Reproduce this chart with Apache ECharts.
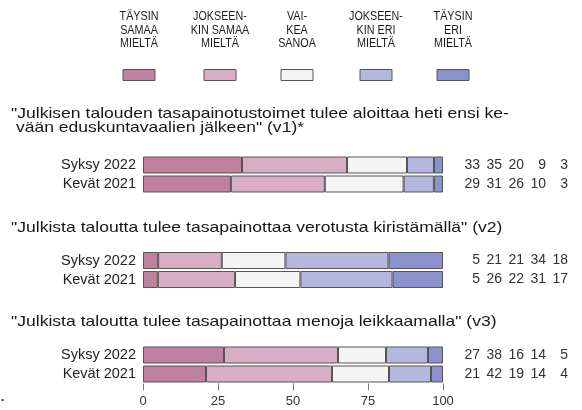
<!DOCTYPE html>
<html><head><meta charset="utf-8">
<script src="https://cdn.jsdelivr.net/npm/echarts@6/dist/echarts.min.js"></script>
<style>html,body{margin:0;padding:0;background:#fff}#c{width:582px;height:410px}</style>
</head><body><div id="c"></div>
<script>
const categories = ['Syksy 2022', 'Kevät 2021'];
const responseLabels = ['TÄYSIN\nSAMAA\nMIELTÄ', 'JOKSEEN-\nKIN SAMAA\nMIELTÄ', 'VAI-\nKEA\nSANOA', 'JOKSEEN-\nKIN ERI\nMIELTÄ', 'TÄYSIN\nERI\nMIELTÄ'];
const questions = [
  '"Julkisen talouden tasapainotustoimet tulee aloittaa heti ensi ke-\n vään eduskuntavaalien jälkeen" (v1)*',
  '"Julkista taloutta tulee tasapainottaa verotusta kiristämällä" (v2)',
  '"Julkista taloutta tulee tasapainottaa menoja leikkaamalla" (v3)'
];
const v1 = [[33, 35, 20, 9, 3], [29, 31, 26, 10, 3]];
const v2 = [[5, 21, 21, 34, 18], [5, 26, 22, 31, 17]];
const v3 = [[27, 38, 16, 14, 5], [21, 42, 19, 14, 4]];
const xTicks = [0, 25, 50, 75, 100];

const colors = ['#c0809f', '#d8aec4', '#f4f4f4', '#b4b7de', '#8a91cc'];
const FONT = '"Liberation Sans", Arial, sans-serif';
const data = [v1, v2, v3];

const gridLeft = 143, gridRight = 582 - 443;
const gridTops = [155.5, 251, 345.5];
const titleTops = [106.5, 220.5, 315];

const grids = gridTops.map(t => ({ left: gridLeft, right: gridRight, top: t, height: 38 }));
const xAxes = data.map((d, gi) => ({
  gridIndex: gi, type: 'value', min: xTicks[0], max: xTicks[xTicks.length - 1], interval: 25,
  show: gi === 2,
  axisLine: { show: false },
  axisTick: { show: true, length: 7, lineStyle: { color: '#777' } },
  axisLabel: { fontSize: 13, color: '#333', margin: 11, fontFamily: FONT },
  splitLine: { show: false }
}));
const yAxes = [];
data.forEach((d, gi) => {
  yAxes.push({
    gridIndex: gi, type: 'category', data: categories, inverse: true,
    axisLine: { show: false }, axisTick: { show: false },
    axisLabel: { interval: 0, hideOverlap: false, fontSize: 14.5, color: '#222', margin: 7, fontFamily: FONT }
  });
  yAxes.push({
    gridIndex: gi, type: 'category', data: categories, inverse: true, position: 'right',
    axisLine: { show: false }, axisTick: { show: false },
    axisLabel: {
      interval: 0, hideOverlap: false, margin: 15,
      formatter: (val, idx) => d[idx].map(n => '{n|' + n + '}').join(''),
      rich: { n: { width: 22, align: 'right', fontSize: 14, color: '#333', fontFamily: FONT } }
    }
  });
});

const series = [];
data.forEach((d, gi) => {
  responseLabels.forEach((lab, k) => {
    series.push({
      type: 'bar', name: lab, stack: 'q' + gi, xAxisIndex: gi, yAxisIndex: gi * 2,
      barWidth: 17,
      itemStyle: { color: colors[k], borderColor: '#555', borderWidth: 1 },
      emphasis: { disabled: true },
      data: d.map(row => {
        const s = row.reduce((a, b) => a + b, 0);
        return row[k] / s * 100;
      })
    });
  });
});

const legendCenters = [139, 220, 297, 376, 453];
const graphic = [];
responseLabels.forEach((lab, k) => {
  graphic.push({
    type: 'text', x: legendCenters[k], y: 10, scaleX: 0.86,
    style: { text: lab, textAlign: 'center', textVerticalAlign: 'top', font: '12.5px ' + FONT, lineHeight: 13.5, fill: '#1a1a1a' }
  });
  graphic.push({
    type: 'rect', shape: { x: legendCenters[k] - 16, y: 69.5, width: 32, height: 11 },
    style: { fill: colors[k], stroke: '#555', lineWidth: 1 }
  });
});
questions.forEach((q, i) => {
  graphic.push({
    type: 'text', x: 11, y: titleTops[i], scaleX: 1.17,
    style: { text: q, textAlign: 'left', textVerticalAlign: 'top', font: '15px ' + FONT, lineHeight: 14.5, fill: '#161616' }
  });
});
graphic.push({ type: 'text', x: 1, y: 392, style: { text: '.', font: 'bold 12px ' + FONT, fill: '#222' } });

const chart = echarts.init(document.getElementById('c'), null, { renderer: 'canvas' });
chart.setOption({
  animation: false,
  grid: grids, xAxis: xAxes, yAxis: yAxes, series: series, graphic: graphic
});
</script></body></html>
